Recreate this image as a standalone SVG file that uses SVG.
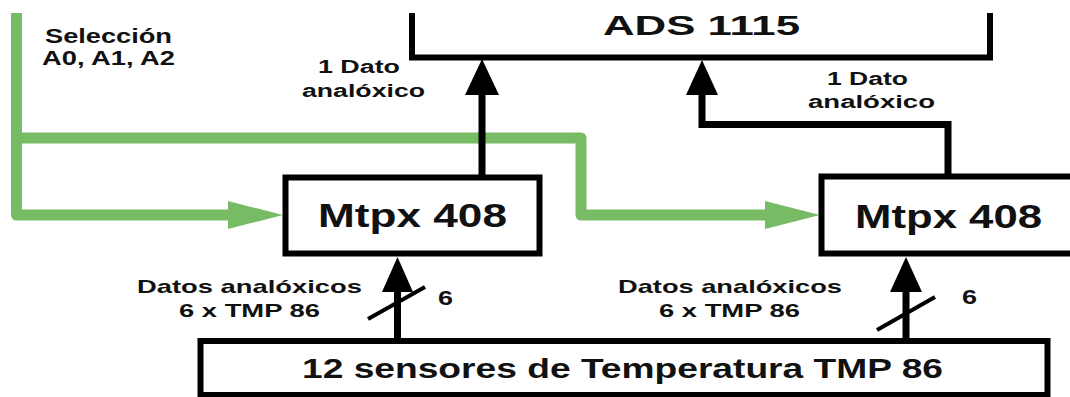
<svg xmlns="http://www.w3.org/2000/svg" width="1070" height="397" viewBox="0 0 1070 397">
<style>
.t{font-family:"Liberation Sans",Arial,sans-serif;font-weight:bold;fill:#111}
.box{fill:#fff;stroke:#000;stroke-width:6}
.blk{fill:none;stroke:#000;stroke-width:7;stroke-linejoin:miter}
.grn{fill:none;stroke:#77bc65;stroke-width:11;stroke-linejoin:round}
.gh{fill:#77bc65}
.bh{fill:#000}
</style>
<rect width="1070" height="397" fill="#fff"/>
<g id="connectors">
  <path class="grn" d="M16.5,13 V215 H232"/>
  <path class="grn" d="M16.5,138 H581 V215 H768"/>
  <polygon class="gh" points="228,201 283,215 228,229"/>
  <polygon class="gh" points="765,201 820,215 765,229"/>
  <path class="blk" d="M482,175 V93"/>
  <polygon class="bh" points="482,59 499,95 465,95"/>
  <path class="blk" stroke-width="6" d="M948,175 V124.5 H702 V93"/>
  <polygon class="bh" points="702,60 718,95 686,95"/>
  <path class="blk" d="M397.5,340 V290"/>
  <polygon class="bh" points="397.5,257 413,292 382,292"/>
  <path class="blk" d="M906,340 V290"/>
  <polygon class="bh" points="906,257 922,292 890,292"/>
  <line x1="368" y1="319" x2="425" y2="287" stroke="#000" stroke-width="4"/>
  <line x1="877" y1="330" x2="935" y2="297" stroke="#000" stroke-width="4"/>
  <text class="t" x="45" y="43" font-size="20" textLength="127" lengthAdjust="spacingAndGlyphs">Selección</text>
  <text class="t" x="42" y="65" font-size="20" textLength="133" lengthAdjust="spacingAndGlyphs">A0, A1, A2</text>
  <text class="t" x="318" y="73" font-size="18" textLength="82" lengthAdjust="spacingAndGlyphs">1 Dato</text>
  <text class="t" x="302" y="97" font-size="18" textLength="123" lengthAdjust="spacingAndGlyphs">analóxico</text>
  <text class="t" x="827" y="85" font-size="18" textLength="81" lengthAdjust="spacingAndGlyphs">1 Dato</text>
  <text class="t" x="808" y="108" font-size="18" textLength="127" lengthAdjust="spacingAndGlyphs">analóxico</text>
  <text class="t" x="137" y="293" font-size="19" textLength="225" lengthAdjust="spacingAndGlyphs">Datos analóxicos</text>
  <text class="t" x="179" y="317" font-size="19" textLength="141" lengthAdjust="spacingAndGlyphs">6 x TMP 86</text>
  <text class="t" x="618" y="293" font-size="19" textLength="224" lengthAdjust="spacingAndGlyphs">Datos analóxicos</text>
  <text class="t" x="659" y="317" font-size="19" textLength="141" lengthAdjust="spacingAndGlyphs">6 x TMP 86</text>
  <text class="t" x="438" y="305" font-size="20" textLength="15" lengthAdjust="spacingAndGlyphs">6</text>
  <text class="t" x="962" y="304" font-size="20" textLength="15" lengthAdjust="spacingAndGlyphs">6</text>
</g>
<g id="ads1115">
  <path d="M412,13 V57.5 H990 V13" fill="none" stroke="#000" stroke-width="6"/>
  <text class="t" x="603" y="35" font-size="28" textLength="197" lengthAdjust="spacingAndGlyphs">ADS 1115</text>
</g>
<g id="mtpx1">
  <rect class="box" x="285.5" y="177.5" width="254" height="76"/>
  <text class="t" x="318" y="227" font-size="33" textLength="189" lengthAdjust="spacingAndGlyphs">Mtpx 408</text>
</g>
<g id="mtpx2">
  <rect class="box" x="821.5" y="176.5" width="260" height="77"/>
  <text class="t" x="855" y="228" font-size="33" textLength="187" lengthAdjust="spacingAndGlyphs">Mtpx 408</text>
</g>
<g id="sensores">
  <rect class="box" x="200.5" y="341" width="847" height="54"/>
  <text class="t" x="302" y="378" font-size="28" textLength="641" lengthAdjust="spacingAndGlyphs">12 sensores de Temperatura TMP 86</text>
</g>
</svg>
